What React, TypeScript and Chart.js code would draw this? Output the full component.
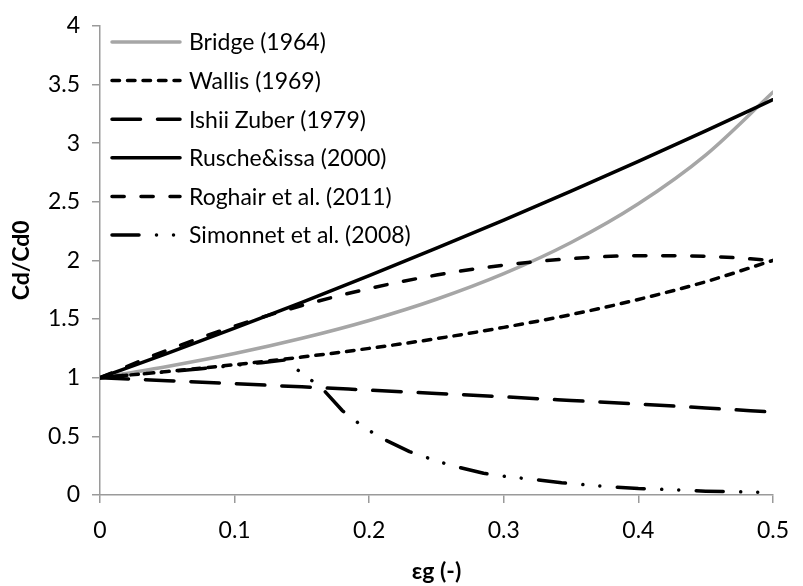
import React, { useEffect, useRef } from "react";
import { Chart, registerables } from "chart.js";

Chart.register(...registerables);

// ---- data ----
const epsG = [0, 0.05, 0.1, 0.15, 0.2, 0.25, 0.3, 0.35, 0.4, 0.45, 0.5];
const bridge = [1, 1.096, 1.206, 1.336, 1.488, 1.669, 1.887, 2.153, 2.483, 2.898, 3.434];
const wallis = [1, 1.053, 1.111, 1.176, 1.25, 1.333, 1.429, 1.538, 1.667, 1.818, 2.0];
const ishiiZuber = [1, 0.975, 0.949, 0.922, 0.894, 0.866, 0.837, 0.806, 0.775, 0.742, 0.707];
const ruscheIssa = [1, 1.208, 1.422, 1.643, 1.87, 2.104, 2.344, 2.59, 2.844, 3.104, 3.37];
const roghair = [1, 1.235, 1.44, 1.615, 1.76, 1.875, 1.96, 2.015, 2.04, 2.035, 2.0];

const simonnetX = [0, 0.025, 0.05, 0.075, 0.1, 0.12, 0.137, 0.165, 0.18, 0.19, 0.2, 0.21, 0.23, 0.25, 0.265, 0.285, 0.3, 0.32, 0.343, 0.367, 0.4, 0.425, 0.45, 0.475, 0.5];
const simonnetY = [1, 1.025, 1.05, 1.077, 1.105, 1.128, 1.15, 0.91, 0.72, 0.63, 0.55, 0.48, 0.37, 0.29, 0.24, 0.185, 0.16, 0.135, 0.105, 0.08, 0.055, 0.045, 0.033, 0.027, 0.02];

const seriesNames = [
  "Bridge (1964)",
  "Wallis (1969)",
  "Ishii Zuber (1979)",
  "Rusche&issa (2000)",
  "Roghair et al. (2011)",
  "Simonnet et al. (2008)",
];

const xTicks = [0, 0.1, 0.2, 0.3, 0.4, 0.5];
const yTicks = [0, 0.5, 1, 1.5, 2, 2.5, 3, 3.5, 4];
const xTitle = "εg (-)";
const yTitle = "Cd/Cd0";

const FONT = "Lato";
const AXIS_GRAY = "#9a9a9a";

const toPts = (xs: number[], ys: number[]) => xs.map((x, i) => ({ x, y: ys[i] }));

const legendPlugin = {
  id: "insideLegend",
  afterDraw(chart: any) {
    const ctx = chart.ctx;
    const x0 = 112;
    const x1 = 180;
    const textX = 189;
    const yStart = 42;
    const step = 38.6;
    chart.data.datasets.forEach((ds: any, i: number) => {
      const y = yStart + i * step;
      ctx.save();
      ctx.strokeStyle = ds.borderColor;
      ctx.lineWidth = ds.borderWidth;
      ctx.lineCap = ds.borderCapStyle || "butt";
      ctx.setLineDash(ds.borderDash || []);
      ctx.beginPath();
      ctx.moveTo(x0, y);
      ctx.lineTo(x1, y);
      ctx.stroke();
      ctx.setLineDash([]);
      ctx.fillStyle = "#000";
      ctx.font = `23px ${FONT}`;
      ctx.textBaseline = "middle";
      ctx.textAlign = "left";
      ctx.fillText(ds.label, textX, y + 1);
      ctx.restore();
    });
  },
};

export default function App() {
  const canvasRef = useRef<HTMLCanvasElement | null>(null);

  useEffect(() => {
    if (!canvasRef.current) return;
    const lw = 3.5;
    const common = {
      showLine: true,
      pointRadius: 0,
      pointHoverRadius: 0,
      fill: false,
      borderWidth: lw,
      borderCapStyle: "round",
      borderJoinStyle: "round",
    };
    const chart = new Chart(canvasRef.current, {
      type: "scatter",
      data: {
        datasets: [
          { ...common, label: seriesNames[0], data: toPts(epsG, bridge), borderColor: "#a6a6a6", backgroundColor: "#a6a6a6", borderDash: [], cubicInterpolationMode: "monotone", order: 6 },
          { ...common, label: seriesNames[1], data: toPts(epsG, wallis), borderColor: "#000", backgroundColor: "#000", borderDash: [7.5, 8], cubicInterpolationMode: "monotone", order: 5 },
          { ...common, label: seriesNames[2], data: toPts(epsG, ishiiZuber), borderColor: "#000", backgroundColor: "#000", borderDash: [28.5, 17], cubicInterpolationMode: "monotone", order: 4 },
          { ...common, label: seriesNames[3], data: toPts(epsG, ruscheIssa), borderColor: "#000", backgroundColor: "#000", borderDash: [], cubicInterpolationMode: "monotone", order: 3 },
          { ...common, label: seriesNames[4], data: toPts(epsG, roghair), borderColor: "#000", backgroundColor: "#000", borderDash: [12.2, 16.8], cubicInterpolationMode: "monotone", order: 2 },
          { ...common, label: seriesNames[5], data: toPts(simonnetX, simonnetY), borderColor: "#000", backgroundColor: "#000", borderDash: [27, 17.5, 0.01, 17, 0.01, 17.5], tension: 0, order: 1 },
        ],
      } as any,
      options: {
        responsive: false,
        animation: false,
        devicePixelRatio: 1,
        layout: { padding: { top: 19, right: 19, bottom: 0, left: 0 } },
        plugins: {
          legend: { display: false },
          tooltip: { enabled: false },
          title: { display: false },
        },
        scales: {
          x: {
            type: "linear",
            min: 0,
            max: 0.5,
            afterBuildTicks: (scale: any) => {
              scale.ticks = xTicks.map((v) => ({ value: v }));
            },
            afterFit: (scale: any) => {
              scale.height = 91;
            },
            ticks: {
              color: "#000",
              font: { family: FONT, size: 23 },
              padding: 14,
              maxRotation: 0,
              callback: (v: any) => String(v),
            },
            grid: {
              display: true,
              drawOnChartArea: false,
              drawTicks: true,
              tickLength: 8,
              color: AXIS_GRAY,
              lineWidth: 1.5,
            },
            border: { display: true, color: AXIS_GRAY, width: 1.5 },
            title: {
              display: true,
              text: xTitle,
              color: "#000",
              font: { family: FONT, size: 23, weight: "bold" },
              padding: { top: 0, bottom: 1 },
            },
          },
          y: {
            type: "linear",
            min: 0,
            max: 4,
            afterBuildTicks: (scale: any) => {
              scale.ticks = yTicks.map((v) => ({ value: v }));
            },
            afterFit: (scale: any) => {
              scale.width = 100;
            },
            ticks: {
              color: "#000",
              font: { family: FONT, size: 23 },
              padding: 12,
              callback: (v: any) => String(v),
            },
            grid: {
              display: true,
              drawOnChartArea: false,
              drawTicks: true,
              tickLength: 8,
              color: AXIS_GRAY,
              lineWidth: 1.5,
            },
            border: { display: true, color: AXIS_GRAY, width: 1.5 },
            title: {
              display: true,
              text: yTitle,
              color: "#000",
              font: { family: FONT, size: 23, weight: "bold" },
              padding: { top: 8, bottom: 0 },
            },
          },
        },
      } as any,
      plugins: [legendPlugin],
    });
    return () => chart.destroy();
  }, []);

  return (
    <div style={{ position: "absolute", left: 0, top: 0, width: 803, height: 586, background: "#fff" }}>
      <canvas ref={canvasRef} width={803} height={586} style={{ display: "block" }} />
    </div>
  );
}
